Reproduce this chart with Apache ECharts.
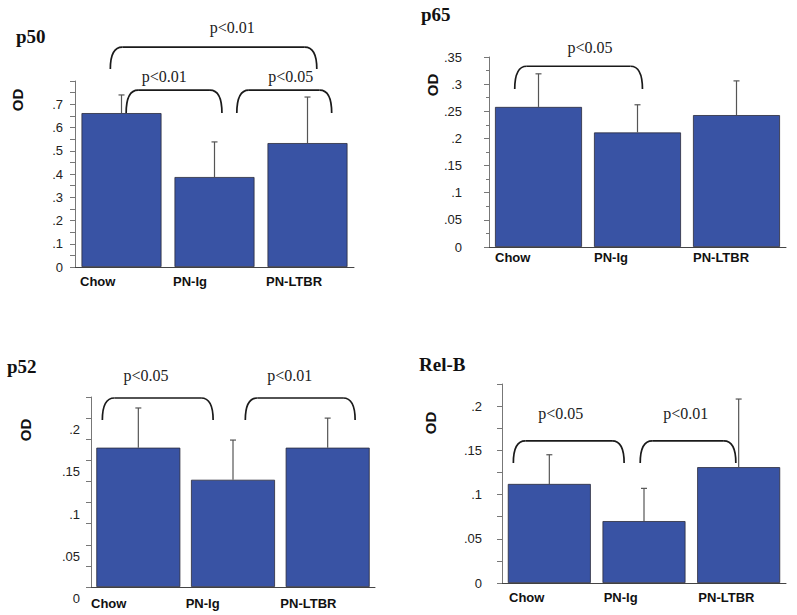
<!DOCTYPE html>
<html>
<head>
<meta charset="utf-8">
<script src="https://cdn.jsdelivr.net/npm/echarts@6/dist/echarts.min.js"></script>
<style>
html,body{margin:0;padding:0;background:#fff;}
#chart{width:797px;height:615px;}
</style>
</head>
<body>
<div id="chart"></div>
<script>
// ---- data ----
const categories = ['Chow', 'PN-Ig', 'PN-LTBR'];

const p50Mean  = [0.662, 0.387, 0.533];
const p50Upper = [0.740, 0.538, 0.731];

const p65Mean  = [0.258, 0.211, 0.243];
const p65Upper = [0.319, 0.262, 0.306];

const p52Mean  = [0.165, 0.127, 0.165];
const p52Upper = [0.212, 0.174, 0.200];

const relBMean  = [0.112, 0.070, 0.131];
const relBUpper = [0.145, 0.107, 0.208];

// significance brackets (x in category units, y in data units)
const p50Brackets = [
  {x1: -0.12, x2: 2.10, yTop: 0.946, yBot: 0.852, label: 'p<0.01', lx: 1.19, ly: 1.028},
  {x1: 0.05, x2: 1.08, yTop: 0.761, yBot: 0.662, label: 'p<0.01', lx: 0.46, ly: 0.821},
  {x1: 1.24, x2: 2.26, yTop: 0.761, yBot: 0.662, label: 'p<0.05', lx: 1.82, ly: 0.821}
];
const p65Brackets = [
  {x1: -0.24, x2: 1.05, yTop: 0.333, yBot: 0.291, label: 'p<0.05', lx: 0.52, ly: 0.368}
];
const p52Brackets = [
  {x1: -0.38, x2: 0.79, yTop: 0.2238, yBot: 0.1978, label: 'p<0.05', lx: 0.08, ly: 0.251},
  {x1: 1.13, x2: 2.29, yTop: 0.2238, yBot: 0.1978, label: 'p<0.01', lx: 1.60, ly: 0.251}
];
const relBBrackets = [
  {x1: -0.38, x2: 0.79, yTop: 0.1606, yBot: 0.1357, label: 'p<0.05', lx: 0.12, ly: 0.1922},
  {x1: 0.96, x2: 1.97, yTop: 0.1606, yBot: 0.1357, label: 'p<0.01', lx: 1.44, ly: 0.1922}
];

// ---- layout ----
const panels = [
  {title: 'p50', mean: p50Mean, upper: p50Upper, brackets: p50Brackets,
   grid: {left: 75, top: 81, width: 279, height: 186}, max: 0.8, interval: 0.05, labelStep: 0.1,
   hideMax: true, minor: false, yMargin: 12, yVA: 'middle', yPad: [0,0,0,0], barWidth: 80, xPad: 5, xMargin: 8,
   titlePos: {left: 16, top: 27}, od: [17, 100]},
  {title: 'p65', mean: p65Mean, upper: p65Upper, brackets: p65Brackets,
   grid: {left: 489, top: 57, width: 297, height: 190}, max: 0.35, interval: 0.05, labelStep: 0.05,
   hideMax: false, minor: true, yMargin: 27, yVA: 'middle', yPad: [0,0,0,0], barWidth: 87, xPad: 6, xMargin: 4,
   titlePos: {left: 421, top: 5}, od: [432, 85]},
  {title: 'p52', mean: p52Mean, upper: p52Upper, brackets: p52Brackets,
   grid: {left: 91, top: 397, width: 284, height: 190}, max: 0.225, interval: 0.025, labelStep: 0.05,
   hideMax: true, minor: false, yMargin: 11, yVA: 'top', yPad: [5,0,0,0], barWidth: 84, xPad: 0, xMargin: 10,
   titlePos: {left: 7, top: 357}, od: [25, 430]},
  {title: 'Rel-B', mean: relBMean, upper: relBUpper, brackets: relBBrackets,
   grid: {left: 502, top: 384, width: 284, height: 199}, max: 0.225, interval: 0.025, labelStep: 0.05,
   hideMax: true, minor: false, yMargin: 20, yVA: 'middle', yPad: [0,0,0,0], barWidth: 83, xPad: 7, xMargin: 8,
   titlePos: {left: 419, top: 355}, od: [430, 423]}
];

const option = {
  animation: false,
  backgroundColor: '#ffffff',
  title: [], grid: [], xAxis: [], yAxis: [], series: [], graphic: []
};

panels.forEach(function (p, i) {
  option.title.push({
    text: p.title, left: p.titlePos.left, top: p.titlePos.top, padding: 0,
    textStyle: {fontFamily: '"Liberation Serif", serif', fontWeight: 'bold', fontSize: 19, color: '#111'}
  });
  option.grid.push(Object.assign({containLabel: false, outerBoundsMode: 'none'}, p.grid));
  option.xAxis.push({
    gridIndex: i, type: 'category', data: categories, position: 'bottom',
    axisLine: {onZero: false, lineStyle: {color: '#444', width: 1}},
    axisTick: {alignWithLabel: true, length: 5, lineStyle: {color: '#666'}},
    axisLabel: {show: false}, splitLine: {show: false}
  });
  option.xAxis.push({
    gridIndex: i, type: 'category', boundaryGap: false, position: 'bottom',
    data: categories.concat(['']),
    axisLine: {show: false, onZero: false}, axisTick: {show: false}, splitLine: {show: false},
    axisLabel: {interval: 0, align: 'left', padding: [0, 0, 0, p.xPad], margin: p.xMargin,
      fontFamily: '"Liberation Sans", Arial, sans-serif', fontWeight: 'bold', fontSize: 13, color: '#111'}
  });
  option.xAxis.push({gridIndex: i, type: 'value', min: -0.5, max: 2.5, show: false,
    axisLine: {onZero: false}});

  const step = p.labelStep, mx = p.max, hideMax = p.hideMax;
  option.yAxis.push({
    gridIndex: i, type: 'value', min: 0, max: p.max, interval: p.interval,
    splitLine: {show: false},
    axisLine: {show: true, onZero: false, lineStyle: {color: '#777', width: 1}},
    axisTick: {show: true, length: 5, lineStyle: {color: '#777'}},
    minorTick: {show: p.minor, splitNumber: 2, length: 3, lineStyle: {color: '#777'}},
    axisLabel: {
      margin: p.yMargin, padding: p.yPad, verticalAlign: p.yVA, color: '#222', fontSize: 13,
      fontFamily: '"Liberation Sans", Arial, sans-serif',
      formatter: function (v) {
        const r = Math.round(v * 1000) / 1000;
        if (hideMax && Math.abs(r - mx) < 1e-9) return '';
        const k = r / step;
        if (Math.abs(k - Math.round(k)) > 1e-6) return '';
        if (r === 0) return '0';
        return String(r).replace(/^0/, '');
      }
    }
  });

  option.series.push({
    type: 'bar', xAxisIndex: 3 * i, yAxisIndex: i, data: p.mean, barWidth: p.barWidth,
    itemStyle: {color: '#3953a4', borderColor: '#2b2b3a', borderWidth: 0.8}, silent: true
  });

  option.series.push({
    type: 'custom', xAxisIndex: 3 * i + 2, yAxisIndex: i, clip: false, z: 3, silent: true,
    data: p.mean.map(function (m, k) { return [k, m, p.upper[k]]; }),
    renderItem: function (params, api) {
      const x = api.value(0);
      const p0 = api.coord([x, api.value(1)]);
      const p1 = api.coord([x, api.value(2)]);
      const st = {stroke: '#555', lineWidth: 1.2};
      return {type: 'group', children: [
        {type: 'line', shape: {x1: p0[0], y1: p0[1], x2: p1[0], y2: p1[1]}, style: st},
        {type: 'line', shape: {x1: p1[0] - 3, y1: p1[1], x2: p1[0] + 3, y2: p1[1]}, style: st}
      ]};
    }
  });

  const br = p.brackets;
  option.series.push({
    type: 'custom', xAxisIndex: 3 * i + 2, yAxisIndex: i, clip: false, z: 4, silent: true,
    data: br.map(function (b) { return [b.x1, b.yTop]; }),
    renderItem: function (params, api) {
      const b = br[params.dataIndex];
      const a = api.coord([b.x1, b.yBot]);
      const t = api.coord([b.x1, b.yTop]);
      const c = api.coord([b.x2, b.yBot]);
      const r = 12;
      const st = {stroke: '#1a1a1a', lineWidth: 1.7, fill: 'none'};
      return {type: 'group', children: [
        {type: 'bezierCurve', shape: {x1: a[0], y1: a[1], x2: a[0] + r, y2: t[1], cpx1: a[0], cpy1: t[1]}, style: st},
        {type: 'line', shape: {x1: a[0] + r, y1: t[1], x2: c[0] - r, y2: t[1]}, style: st},
        {type: 'bezierCurve', shape: {x1: c[0] - r, y1: t[1], x2: c[0], y2: c[1], cpx1: c[0], cpy1: t[1]}, style: st}
      ]};
    }
  });

  option.series.push({
    type: 'custom', xAxisIndex: 3 * i + 2, yAxisIndex: i, clip: false, z: 5, silent: true,
    data: br.map(function (b) { return [b.lx, b.ly]; }),
    renderItem: function (params, api) {
      const b = br[params.dataIndex];
      const pt = api.coord([api.value(0), api.value(1)]);
      return {type: 'text', style: {
        text: b.label, x: pt[0], y: pt[1], fill: '#222',
        fontFamily: '"Liberation Serif", serif', fontSize: 16,
        align: 'center', verticalAlign: 'middle', textAlign: 'center', textVerticalAlign: 'middle'
      }};
    }
  });

  option.graphic.push({
    type: 'text', x: p.od[0], y: p.od[1], rotation: Math.PI / 2,
    style: {text: 'OD', fill: '#111', fontFamily: '"Liberation Sans", Arial, sans-serif',
      fontWeight: 'bold', fontSize: 15, align: 'center', verticalAlign: 'middle',
      textAlign: 'center', textVerticalAlign: 'middle'}
  });
});

const chart = echarts.init(document.getElementById('chart'), null, {renderer: 'svg'});
chart.setOption(option);
</script>
</body>
</html>
